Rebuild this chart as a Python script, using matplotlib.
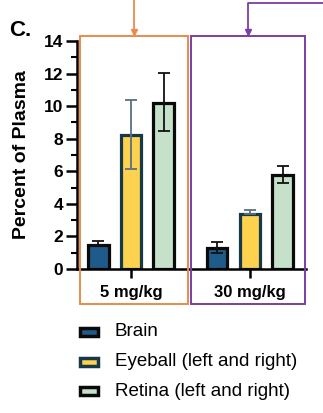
import matplotlib.pyplot as plt
from matplotlib.patches import Rectangle
from matplotlib.lines import Line2D
import numpy as np

plt.rcParams['font.family'] = ['Liberation Sans', 'DejaVu Sans']

doses = ['5 mg/kg', '30 mg/kg']
tissues = ['Brain', 'Eyeball (left and right)', 'Retina (left and right)']
means = {
    'Brain': [1.5, 1.3],
    'Eyeball (left and right)': [8.2, 3.35],
    'Retina (left and right)': [10.2, 5.8],
}
err_lo = {
    'Brain': [0.0, 0.3],
    'Eyeball (left and right)': [2.05, 0.0],
    'Retina (left and right)': [1.7, 0.5],
}
err_hi = {
    'Brain': [0.2, 0.35],
    'Eyeball (left and right)': [2.15, 0.25],
    'Retina (left and right)': [1.85, 0.55],
}
fills = ['#1f5b8a', '#fcd24f', '#c6e1c9']
edges = ['#0a0a0a', '#163848', '#0a0a0a']
errc = ['#111111', '#5a7080', '#111111']

W, H = 323, 413
fig = plt.figure(figsize=(W / 100, H / 100), dpi=100)


def fx(px):
    return px / W


def fy(py):
    return 1 - py / H


ax = fig.add_axes([fx(77), fy(269), fx(306) - fx(77), fy(41) - fy(269)])

step = 0.277
width = 0.176
x = np.arange(len(doses))
for i, t in enumerate(tissues):
    pos = x + (i - 1) * step
    ax.bar(pos, means[t], width, color=fills[i], edgecolor=edges[i], linewidth=2.3, zorder=2)
    ax.errorbar(pos, means[t], yerr=[err_lo[t], err_hi[t]], fmt='none', ecolor=errc[i],
                elinewidth=1.3, capsize=4.5, capthick=1.3, zorder=3)

ax.set_xlim(-0.454, 1.471)
ax.set_ylim(0, 14)
ax.set_yticks(range(0, 15, 2))
ax.set_yticks(range(0, 15, 1), minor=True)
ax.set_xticks(x)
ax.set_xticklabels([])
for s in ['top', 'right']:
    ax.spines[s].set_visible(False)
for s in ['left', 'bottom']:
    ax.spines[s].set_linewidth(1.8)
ax.tick_params(axis='y', which='major', length=8, width=1.8, labelsize=12.5, pad=2)
ax.tick_params(axis='y', which='minor', length=4.5, width=1.5)
ax.tick_params(axis='x', length=6.5, width=1.8)
for lab in ax.get_yticklabels():
    lab.set_fontweight('bold')
ax.set_ylabel('Percent of Plasma', fontsize=14, fontweight='bold')
ax.yaxis.set_label_coords(-0.207, 0.5)
ax.patch.set_alpha(0)

# dose labels
for d, cx in zip(doses, [131, 250]):
    fig.text(fx(cx), fy(293), d, ha='center', va='center', fontsize=12, fontweight='bold')

# group boxes
fig.add_artist(Rectangle((fx(80), fy(304)), fx(188) - fx(80), fy(36) - fy(304),
                         transform=fig.transFigure, fill=False, edgecolor='#ea8a4c', linewidth=1.4, zorder=5))
fig.add_artist(Rectangle((fx(191), fy(304)), fx(305) - fx(191), fy(36) - fy(304),
                         transform=fig.transFigure, fill=False, edgecolor='#7b3fa2', linewidth=1.4, zorder=5))

# arrows
fig.add_artist(Line2D([fx(134), fx(134)], [fy(0), fy(34)], color='#ea8a4c', lw=1.3))
fig.add_artist(Line2D([fx(134)], [fy(32)], marker='v', color='#ea8a4c', ms=4))
fig.add_artist(Line2D([fx(248), fx(248), fx(323)], [fy(34), fy(2.5), fy(2.5)], color='#7b3fa2', lw=1.3))
fig.add_artist(Line2D([fx(248)], [fy(32)], marker='v', color='#7b3fa2', ms=4))

fig.text(fx(9), fy(31), 'C.', ha='left', va='center', fontsize=16, fontweight='bold')

# legend
for i, (t, yy) in enumerate(zip(tissues, [332, 362, 391])):
    fig.add_artist(Rectangle((fx(80), fy(yy + 4)), fx(98) - fx(80), fy(yy - 4) - fy(yy + 4),
                             transform=fig.transFigure, facecolor=fills[i], edgecolor=edges[i], linewidth=2.5))
    fig.text(fx(115), fy(yy), t, ha='left', va='center', fontsize=13.5)

fig.savefig('out.png', dpi=100)
